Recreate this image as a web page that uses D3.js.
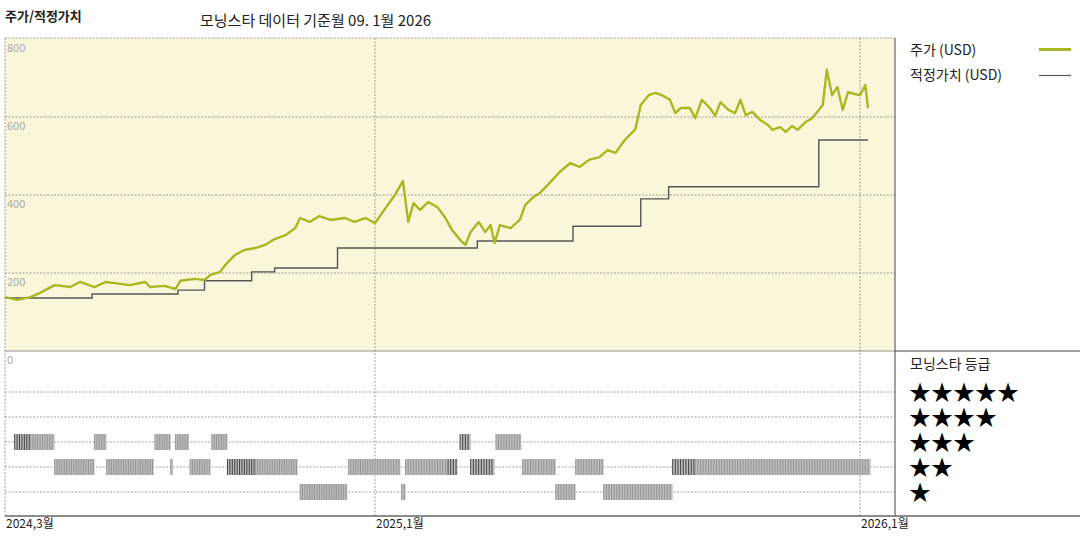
<!DOCTYPE html>
<html>
<head>
<meta charset="utf-8">
<script src="https://cdn.jsdelivr.net/npm/d3@7"></script>
<style>
  body { margin: 0; background: #fff; }
  text { font-family: "Noto Sans CJK KR", "DejaVu Sans", sans-serif; }
</style>
</head>
<body>
<svg id="chart" width="1080" height="540"></svg>
<script>
// price (USD)
const priceDates = ["2024-03-01","2024-03-11","2024-03-22","2024-03-30","2024-04-11","2024-04-24","2024-05-02","2024-05-14","2024-05-23","2024-05-31","2024-06-12","2024-06-25","2024-06-29","2024-07-11","2024-07-20","2024-07-24","2024-08-05","2024-08-13","2024-08-18","2024-08-26","2024-08-30","2024-09-07","2024-09-15","2024-09-24","2024-10-02","2024-10-10","2024-10-19","2024-10-27","2024-10-31","2024-11-08","2024-11-16","2024-11-25","2024-12-07","2024-12-15","2024-12-24","2025-01-01","2025-01-09","2025-01-16","2025-01-22","2025-01-26","2025-01-30","2025-02-04","2025-02-10","2025-02-17","2025-02-23","2025-02-28","2025-03-06","2025-03-10","2025-03-14","2025-03-20","2025-03-25","2025-03-29","2025-04-01","2025-04-05","2025-04-13","2025-04-20","2025-04-24","2025-05-01","2025-05-05","2025-05-11","2025-05-20","2025-05-28","2025-06-04","2025-06-11","2025-06-19","2025-06-25","2025-07-01","2025-07-08","2025-07-16","2025-07-20","2025-07-26","2025-07-31","2025-08-05","2025-08-11","2025-08-15","2025-08-19","2025-08-26","2025-08-30","2025-09-04","2025-09-10","2025-09-14","2025-09-18","2025-09-24","2025-09-29","2025-10-03","2025-10-07","2025-10-12","2025-10-18","2025-10-24","2025-10-27","2025-11-02","2025-11-06","2025-11-11","2025-11-15","2025-11-21","2025-11-26","2025-12-01","2025-12-04","2025-12-07","2025-12-11","2025-12-15","2025-12-19","2025-12-23","2025-12-28","2026-01-01","2026-01-05","2026-01-07"];
const priceValues = [138,131,138,149,169,164,177,164,177,174,169,177,164,167,159,180,185,182,195,203,220,246,259,264,272,287,297,315,341,331,346,336,341,331,341,328,367,400,436,331,379,362,382,369,341,310,285,272,305,331,305,323,277,323,315,336,374,397,405,426,459,482,472,490,497,515,508,541,569,631,656,662,656,644,610,623,623,597,644,623,603,638,618,610,644,605,613,592,579,567,574,562,577,567,587,597,618,631,721,656,677,618,664,659,656,682,623];

// fair value steps (USD)
const fairDates = ["2024-03-01","2024-05-12","2024-07-22","2024-08-13","2024-09-21","2024-10-10","2024-12-01","2025-03-19","2025-05-30","2025-07-20","2025-08-10","2025-12-01","2026-01-07"];
const fairValues = [136,146,156,180,203,213,264,282,320,390,421,541,541];

// morningstar rating periods: start, end, stars, dark
const ratingStart = ["2024-03-09","2024-03-22","2024-04-11","2024-05-14","2024-05-24","2024-07-03","2024-07-16","2024-07-20","2024-08-01","2024-08-19","2024-09-01","2024-09-24","2024-10-31","2024-12-10","2025-01-21","2025-01-24","2025-02-25","2025-03-06","2025-03-14","2025-04-02","2025-04-22","2025-05-17","2025-06-01","2025-06-22","2025-08-13","2025-08-30"];
const ratingEnd = ["2024-03-22","2024-04-11","2024-05-14","2024-05-24","2024-07-02","2024-07-16","2024-07-18","2024-07-31","2024-08-18","2024-09-01","2024-09-24","2024-10-29","2024-12-09","2025-01-20","2025-01-24","2025-02-25","2025-03-04","2025-03-14","2025-04-01","2025-04-21","2025-05-17","2025-06-01","2025-06-22","2025-08-13","2025-08-30","2026-01-09"];
const ratingStars = [3,3,2,3,2,3,2,3,2,3,2,2,1,2,1,2,2,3,2,3,2,1,2,1,2,2];
const ratingDark = [1,0,0,0,0,0,0,0,0,0,1,0,0,0,0,0,1,1,1,0,0,0,0,0,1,0];

const yTicks = [0, 200, 400, 600, 800];
const xTicks = ["2024-03-01", "2025-01-01", "2026-01-01"];
const xTickLabels = ["2024,3월", "2025,1월", "2026,1월"];
const starLevels = [5, 4, 3, 2, 1];

const parse = d3.timeParse("%Y-%m-%d");
const svg = d3.select("#chart");

const left = 5, plotRight = 895, plotTop = 38, priceBottom = 351, plotBottom = 516;

const x = d3.scaleTime()
  .domain(xTicks.map(parse))
  .range([5, 375, 860]);
const y = d3.scaleLinear().domain([0, 800]).range([priceBottom, 39]);
const r = d3.scaleLinear().domain([5, 1]).range([392, 492]);

// background
svg.append("rect").attr("x", left).attr("y", plotTop)
  .attr("width", plotRight - left).attr("height", priceBottom - plotTop)
  .attr("fill", "#f9f6da");

const grid = svg.append("g").attr("stroke", "#888").attr("stroke-dasharray", "2,1.5").attr("stroke-width", 0.8);
yTicks.slice(1, 4).forEach(v => grid.append("line").attr("x1", left).attr("x2", plotRight).attr("y1", y(v)).attr("y2", y(v)));
grid.append("line").attr("x1", left).attr("x2", plotRight).attr("y1", plotTop).attr("y2", plotTop);
starLevels.forEach(s => grid.append("line").attr("x1", left).attr("x2", plotRight).attr("y1", r(s)).attr("y2", r(s)));
grid.append("line").attr("x1", left).attr("x2", left).attr("y1", plotTop).attr("y2", plotBottom);
xTicks.slice(1).forEach(d => grid.append("line").attr("x1", x(parse(d))).attr("x2", x(parse(d))).attr("y1", plotTop).attr("y2", plotBottom));

// frame
svg.append("line").attr("x1", left).attr("x2", plotRight).attr("y1", priceBottom).attr("y2", priceBottom).attr("stroke", "#777").attr("stroke-width", 0.8);
svg.append("line").attr("x1", plotRight).attr("x2", plotRight).attr("y1", plotTop).attr("y2", plotBottom).attr("stroke", "#444");
svg.append("line").attr("x1", plotRight).attr("x2", 1080).attr("y1", priceBottom).attr("y2", priceBottom).attr("stroke", "#444");
svg.append("line").attr("x1", left).attr("x2", 1080).attr("y1", plotBottom).attr("y2", plotBottom).attr("stroke", "#666").attr("stroke-width", 1.5);

// y tick labels
svg.append("g").selectAll("text").data(yTicks).join("text")
  .attr("x", 7).attr("y", d => y(d) + 13)
  .attr("font-size", 11).attr("fill", "#aaa").text(d => d);

// x tick labels
svg.append("g").selectAll("text").data(xTicks).join("text")
  .attr("x", d => x(parse(d)) + 1).attr("y", 528)
  .attr("font-size", 12).attr("fill", "#222")
  .text((d, i) => xTickLabels[i]);

// rating bars
const bars = svg.append("g");
ratingStart.forEach((s, i) => {
  const x0 = x(parse(s)), x1 = x(parse(ratingEnd[i]));
  const yc = r(ratingStars[i]);
  bars.append("rect").attr("x", x0).attr("y", yc - 8).attr("width", Math.max(1, x1 - x0)).attr("height", 16)
    .attr("fill", "#bdbdbd");
  const days = d3.timeDay.range(parse(s), parse(ratingEnd[i]), 2);
  bars.selectAll(null).data(days).join("line")
    .attr("x1", d => x(d)).attr("x2", d => x(d))
    .attr("y1", yc - 8).attr("y2", yc + 8)
    .attr("stroke", ratingDark[i] ? "#222" : "#8a8a8a").attr("stroke-width", 0.8);
});

// fair value
const fair = fairDates.map((d, i) => [parse(d), fairValues[i]]);
svg.append("path").datum(fair)
  .attr("fill", "none").attr("stroke", "#555").attr("stroke-width", 1.4)
  .attr("d", d3.line().x(d => x(d[0])).y(d => y(d[1])).curve(d3.curveStepAfter));

// price
const price = priceDates.map((d, i) => [parse(d), priceValues[i]]);
svg.append("path").datum(price)
  .attr("fill", "none").attr("stroke", "#a9b822").attr("stroke-width", 2.4)
  .attr("stroke-linejoin", "round")
  .attr("d", d3.line().x(d => x(d[0])).y(d => y(d[1])));

// titles
svg.append("text").attr("x", 5).attr("y", 21).attr("font-size", 13).attr("font-weight", "bold").attr("fill", "#222").text("주가/적정가치");
svg.append("text").attr("x", 200).attr("y", 26).attr("font-size", 15).attr("fill", "#222").text("모닝스타 데이터 기준월 09. 1월 2026");

// legend
const lg = svg.append("g");
lg.append("text").attr("x", 910).attr("y", 55).attr("font-size", 14).attr("fill", "#222").text("주가 (USD)");
lg.append("line").attr("x1", 1039).attr("x2", 1071).attr("y1", 49.5).attr("y2", 49.5).attr("stroke", "#a9b822").attr("stroke-width", 3);
lg.append("text").attr("x", 910).attr("y", 80).attr("font-size", 14).attr("fill", "#222").text("적정가치 (USD)");
lg.append("line").attr("x1", 1039).attr("x2", 1071).attr("y1", 75.5).attr("y2", 75.5).attr("stroke", "#555").attr("stroke-width", 1.2);
lg.append("text").attr("x", 910).attr("y", 369).attr("font-size", 14).attr("fill", "#222").text("모닝스타 등급");
lg.selectAll("text.star").data(starLevels).join("text").attr("class", "star")
  .attr("x", 909).attr("y", d => r(d) + 8)
  .attr("font-size", 22).attr("font-family", "DejaVu Sans").attr("fill", "#000")
  .text(d => "★".repeat(d));
</script>
</body>
</html>
